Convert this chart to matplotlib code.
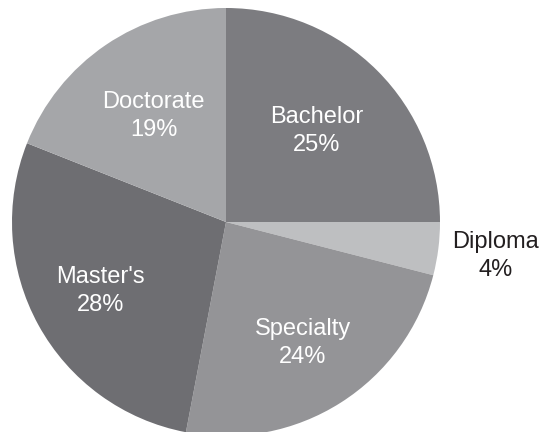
import numpy as np
import matplotlib
matplotlib.use("Agg")
import matplotlib.pyplot as plt
from matplotlib import font_manager

categories = ["Bachelor", "Diploma", "Specialty", "Master's", "Doctorate"]
shares = [25, 4, 24, 28, 19]
colors = ["#7c7c80", "#bebfc1", "#949497", "#6e6e72", "#a5a6a9"]
label_colors = ["white", "#231f20", "white", "white", "white"]
label_dist = [0.60, 1.27, 0.67, 0.67, 0.60]

names = {f.name for f in font_manager.fontManager.ttflist}
family = ["Liberation Sans Narrow", "Liberation Sans", "DejaVu Sans"]
family = [f for f in family if f in names] or ["DejaVu Sans"]

W, H = 541, 432
fig = plt.figure(figsize=(W / 100, H / 100), dpi=100)
ax = fig.add_axes([0, 0, 1, 1])

cx, cy, r = 226, H - 222, 214
wedges, _ = ax.pie(shares, colors=colors, startangle=90, counterclock=False,
                   center=(cx, cy), radius=r, frame=True,
                   wedgeprops=dict(linewidth=0))
ax.set_xlim(0, W)
ax.set_ylim(0, H)
ax.set_aspect("equal")
ax.axis("off")

for w, name, val, tc, d in zip(wedges, categories, shares, label_colors, label_dist):
    mid = np.deg2rad((w.theta1 + w.theta2) / 2)
    x = cx + d * r * np.cos(mid)
    y = cy + d * r * np.sin(mid)
    ax.text(x, y, f"{name}\n{val}%", ha="center", va="center", color=tc,
            fontsize=17, family=family, linespacing=1.35)

fig.savefig("out.png", dpi=100)
